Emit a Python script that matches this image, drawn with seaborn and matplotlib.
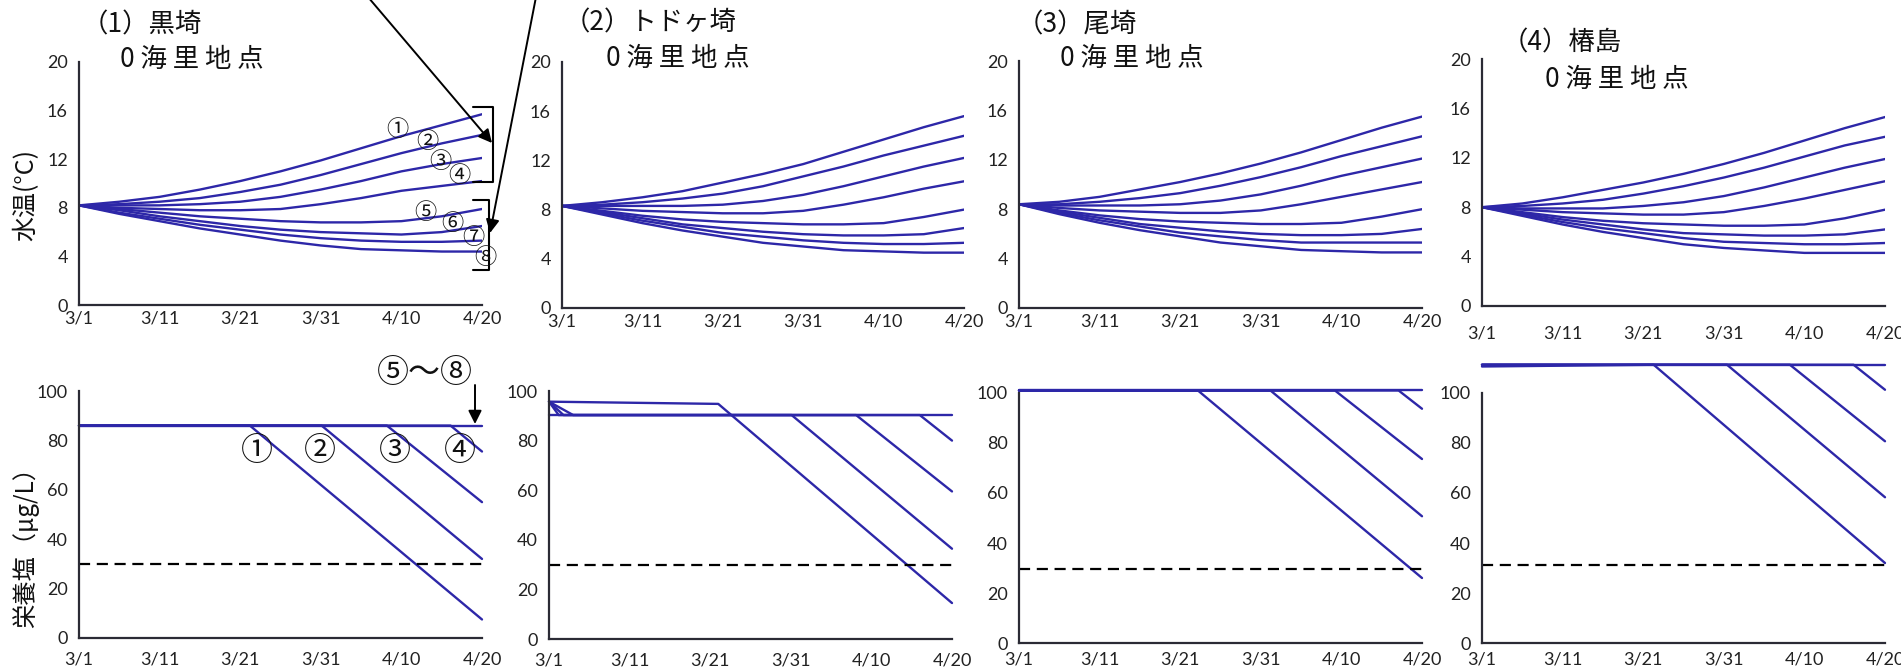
import numpy as np
import pandas as pd
import seaborn as sns
import matplotlib
matplotlib.use("Agg")
import matplotlib.pyplot as plt
from matplotlib.lines import Line2D
from matplotlib.patches import FancyArrowPatch

# ---- data (days after 3/1) ----
sites = ["黒埼", "トドヶ埼", "尾埼", "椿島"]
temp_days = [0, 5, 10, 15, 20, 25, 30, 35, 40, 45, 50]

temp_kurosaki = [
    [8.2, 8.5, 8.9, 9.5, 10.2, 11.0, 11.9, 12.9, 13.9, 14.8, 15.7],
    [8.2, 8.3, 8.5, 8.8, 9.3, 9.9, 10.7, 11.6, 12.5, 13.3, 14.0],
    [8.2, 8.2, 8.2, 8.3, 8.5, 8.9, 9.5, 10.2, 11.0, 11.6, 12.1],
    [8.2, 8.0, 7.9, 7.8, 7.8, 7.9, 8.3, 8.8, 9.4, 9.8, 10.2],
    [8.2, 7.9, 7.6, 7.3, 7.1, 6.9, 6.8, 6.8, 6.9, 7.3, 7.9],
    [8.2, 7.8, 7.3, 6.9, 6.5, 6.2, 6.0, 5.9, 5.8, 6.0, 6.5],
    [8.2, 7.6, 7.1, 6.6, 6.2, 5.8, 5.5, 5.3, 5.2, 5.2, 5.3],
    [8.2, 7.5, 6.9, 6.3, 5.8, 5.3, 4.9, 4.6, 4.5, 4.4, 4.4],
]
temp_todogasaki = [
    [8.3, 8.6, 9.0, 9.5, 10.2, 10.9, 11.7, 12.7, 13.7, 14.7, 15.6],
    [8.3, 8.4, 8.6, 8.9, 9.3, 9.9, 10.7, 11.5, 12.4, 13.2, 14.0],
    [8.3, 8.3, 8.3, 8.3, 8.4, 8.7, 9.2, 9.9, 10.7, 11.5, 12.2],
    [8.3, 8.1, 7.9, 7.8, 7.7, 7.7, 7.9, 8.4, 9.0, 9.7, 10.3],
    [8.3, 7.9, 7.5, 7.2, 7.0, 6.9, 6.8, 6.8, 6.9, 7.4, 8.0],
    [8.3, 7.8, 7.3, 6.8, 6.5, 6.2, 6.0, 5.9, 5.9, 6.0, 6.5],
    [8.3, 7.7, 7.1, 6.6, 6.1, 5.8, 5.5, 5.3, 5.2, 5.2, 5.3],
    [8.3, 7.6, 6.9, 6.3, 5.8, 5.3, 5.0, 4.7, 4.6, 4.5, 4.5],
]
temp_ozaki = [
    [8.4, 8.6, 9.0, 9.6, 10.2, 10.9, 11.7, 12.6, 13.6, 14.6, 15.5],
    [8.4, 8.4, 8.6, 8.9, 9.3, 9.9, 10.6, 11.4, 12.3, 13.1, 13.9],
    [8.4, 8.3, 8.3, 8.3, 8.4, 8.7, 9.2, 9.9, 10.7, 11.4, 12.1],
    [8.4, 8.1, 7.9, 7.8, 7.7, 7.7, 7.9, 8.4, 9.0, 9.6, 10.2],
    [8.4, 7.9, 7.5, 7.2, 7.0, 6.9, 6.8, 6.8, 6.9, 7.4, 8.0],
    [8.4, 7.8, 7.3, 6.8, 6.5, 6.2, 6.0, 5.9, 5.9, 6.0, 6.4],
    [8.4, 7.7, 7.1, 6.6, 6.1, 5.8, 5.5, 5.3, 5.3, 5.3, 5.3],
    [8.4, 7.6, 6.9, 6.3, 5.8, 5.3, 5.0, 4.7, 4.6, 4.5, 4.5],
]
temp_tsubaki = [
    [8.0, 8.3, 8.8, 9.4, 10.0, 10.7, 11.5, 12.4, 13.4, 14.4, 15.3],
    [8.0, 8.1, 8.3, 8.6, 9.1, 9.7, 10.4, 11.2, 12.1, 13.0, 13.7],
    [8.0, 7.9, 7.9, 7.9, 8.1, 8.4, 8.9, 9.6, 10.4, 11.2, 11.9],
    [8.0, 7.8, 7.6, 7.5, 7.4, 7.4, 7.6, 8.1, 8.7, 9.4, 10.1],
    [8.0, 7.6, 7.2, 6.9, 6.7, 6.6, 6.5, 6.5, 6.6, 7.1, 7.8],
    [8.0, 7.5, 7.0, 6.6, 6.2, 5.9, 5.8, 5.7, 5.7, 5.8, 6.2],
    [8.0, 7.4, 6.8, 6.3, 5.9, 5.5, 5.2, 5.1, 5.0, 5.0, 5.1],
    [8.0, 7.3, 6.6, 6.0, 5.5, 5.0, 4.7, 4.5, 4.3, 4.3, 4.3],
]

# nutrient series: breakpoints (day, value) for ①..④ and ⑤～⑧
nut_days_kurosaki = [[0, 21.2, 50], [0, 30.1, 50], [0, 38.2, 50], [0, 46.1, 50], [0, 50]]
nut_vals_kurosaki = [[86, 86, 7.5], [86, 86, 32], [86, 86, 55], [86, 86, 75.5], [86, 86]]
nut_days_todogasaki = [[0, 21.0, 50], [0, 3.0, 30.1, 50], [0, 1.8, 38.1, 50], [0, 1.2, 46.0, 50], [0, 50]]
nut_vals_todogasaki = [[95.7, 94.8, 14.5], [95.7, 90.3, 90.3, 36.4], [95.7, 90.3, 90.3, 59.5],
                       [95.7, 90.3, 90.3, 80], [90.3, 90.3]]
nut_days_ozaki = [[0, 22.2, 50], [0, 31.2, 50], [0, 39.2, 50], [0, 47.1, 50], [0, 50]]
nut_vals_ozaki = [[101, 101, 26], [101, 101, 50.7], [101, 101, 73.6], [101, 101, 93.7], [101, 101]]
nut_days_tsubaki = [[0, 21.3, 50], [0, 30.4, 50], [0, 38.2, 50], [0, 46.1, 50], [0, 50]]
nut_vals_tsubaki = [[110.6, 111.3, 32], [111.3, 111.3, 58.3], [111.3, 111.3, 80.7],
                    [111.3, 111.3, 101.3], [111.3, 111.3]]
threshold = [30, 30, 29.7, 31.3]

date_labels = ["3/1", "", "3/11", "", "3/21", "", "3/31", "", "4/10", "", "4/20"]

temps = [temp_kurosaki, temp_todogasaki, temp_ozaki, temp_tsubaki]
nut_days = [nut_days_kurosaki, nut_days_todogasaki, nut_days_ozaki, nut_days_tsubaki]
nut_vals = [nut_vals_kurosaki, nut_vals_todogasaki, nut_vals_ozaki, nut_vals_tsubaki]

# ---- style ----
sns.set_style("white")
plt.rcParams["font.family"] = ["Lato", "Noto Sans CJK JP", "DejaVu Sans"]
CJK = ["Noto Sans CJK JP", "DejaVu Sans"]
LINE = "#2d27a8"
AXC = "#2b2b35"

W, H = 1901, 668
fig = plt.figure(figsize=(W / 100, H / 100), dpi=100)
fig.patch.set_facecolor("white")


def px_axes(x0, x1, ytop, ybot):
    return fig.add_axes([x0 / W, 1 - ybot / H, (x1 - x0) / W, (ybot - ytop) / H])


def ftext(x, y, s, **kw):
    fig.text(x / W, 1 - y / H, s, **kw)


def style_axes(ax, ymax, ystep, xpad):
    ax.set_xlim(0, 50)
    ax.set_ylim(0, ymax)
    ax.set_facecolor("none")
    for s in ["top", "right"]:
        ax.spines[s].set_visible(False)
    for s in ["left", "bottom"]:
        ax.spines[s].set_color(AXC)
        ax.spines[s].set_linewidth(1.6)
    ax.set_xticks(temp_days)
    ax.set_xticklabels(date_labels)
    yt = np.arange(0, ymax + 0.1, ystep)
    ax.set_yticks(yt)
    ax.set_yticklabels([f"{v:g}" if i % 2 == 0 else "" for i, v in enumerate(yt)])
    ax.tick_params(axis="both", direction="in", length=9, width=1.6, color=AXC,
                   labelsize=13, labelcolor="#222222")
    ax.tick_params(axis="x", pad=xpad)
    ax.tick_params(axis="y", pad=8)
    ax.set_xlabel("")
    ax.set_ylabel("")


top_pos = [(79, 482, 62, 305), (562, 964, 62, 308), (1019, 1422, 61, 308), (1482, 1885, 59, 306)]
bot_pos = [(79, 482, 391, 638), (549, 952, 391, 639), (1019, 1422, 393, 643), (1482, 1885, 393, 643)]
top_pad = [4, 4, 4, 14]
bot_pad = [10, 10, 6, 6]

for i in range(4):
    # water temperature
    ax = px_axes(*top_pos[i])
    rows = [(c, d, v) for c, series in enumerate(temps[i]) for d, v in zip(temp_days, series)]
    df = pd.DataFrame(rows, columns=["curve", "day", "temp"])
    sns.lineplot(data=df, x="day", y="temp", units="curve", estimator=None,
                 color=LINE, lw=1.7, ax=ax, legend=False)
    for ln in ax.lines:
        ln.set_solid_joinstyle("round")
    style_axes(ax, 20, 2, top_pad[i])

    # nutrients
    ax = px_axes(*bot_pos[i])
    rows = [(c, d, v) for c, (ds, vs) in enumerate(zip(nut_days[i], nut_vals[i])) for d, v in zip(ds, vs)]
    df = pd.DataFrame(rows, columns=["curve", "day", "nut"])
    sns.lineplot(data=df, x="day", y="nut", units="curve", estimator=None, sort=False,
                 color=LINE, lw=1.7, ax=ax, legend=False)
    ax.plot([0, 50.3], [threshold[i], threshold[i]], color="black", lw=1.6,
            linestyle=(0, (5, 3)), clip_on=False)
    for ln in ax.lines:
        ln.set_clip_on(False)
    style_axes(ax, 100, 10, bot_pad[i])

# ---- titles ----
title_font = dict(family=CJK, fontsize=19, color="#111111", va="center", ha="left")
ftext(82, 25, "（1）黒埼", **title_font)
ftext(120, 59, "0 海 里 地 点", **title_font)
ftext(564, 23, "（2）トドヶ埼", **title_font)
ftext(606, 58, "0 海 里 地 点", **title_font)
ftext(1017, 25, "（3）尾埼", **title_font)
ftext(1060, 58, "0 海 里 地 点", **title_font)
ftext(1502, 43, "（4）椿島", **title_font)
ftext(1545, 79, "0 海 里 地 点", **title_font)

# ---- axis labels ----
ftext(26, 195, "水温(°C)", family=CJK, fontsize=18, rotation=90, ha="center", va="center", color="#111111")
ftext(26, 542, "栄養塩（μg/L）", family=CJK, fontsize=17.5, rotation=90, ha="center", va="center", color="#111111")

# ---- case labels, panel 1 ----
small = dict(family=CJK, fontsize=16, color="#111111", ha="center", va="center")
for s, x, y in [("①", 397, 130), ("②", 427, 142), ("③", 440, 162), ("④", 459, 175),
                ("⑤", 425, 213), ("⑥", 452, 223), ("⑦", 473, 237), ("⑧", 485, 258)]:
    ftext(x, y, s, **small)

big = dict(family=CJK, fontsize=23, color="#111111", ha="center", va="center")
for s, x, y in [("①", 257, 451), ("②", 320, 451), ("③", 395, 451), ("④", 460, 451)]:
    ftext(x, y, s, **big)
ftext(425, 373, "⑤～⑧", **big)

# ---- brackets and arrows ----
for xs, ys in [([473, 493, 493, 473], [107, 107, 182, 182]),
               ([473, 489, 489, 473], [200, 200, 270, 270])]:
    fig.add_artist(Line2D([x / W for x in xs], [1 - y / H for y in ys],
                          transform=fig.transFigure, color="black", lw=1.5))

for (xa, ya), (xb, yb) in [((368, -3), (492, 143)), ((536, -3), (490, 233)), ((475, 385), (475, 424))]:
    fig.add_artist(FancyArrowPatch((xa / W, 1 - ya / H), (xb / W, 1 - yb / H),
                                   transform=fig.transFigure, arrowstyle="-|>",
                                   mutation_scale=20, lw=1.4, color="black",
                                   shrinkA=0, shrinkB=0))

fig.savefig("out.png", dpi=100, facecolor="white")
